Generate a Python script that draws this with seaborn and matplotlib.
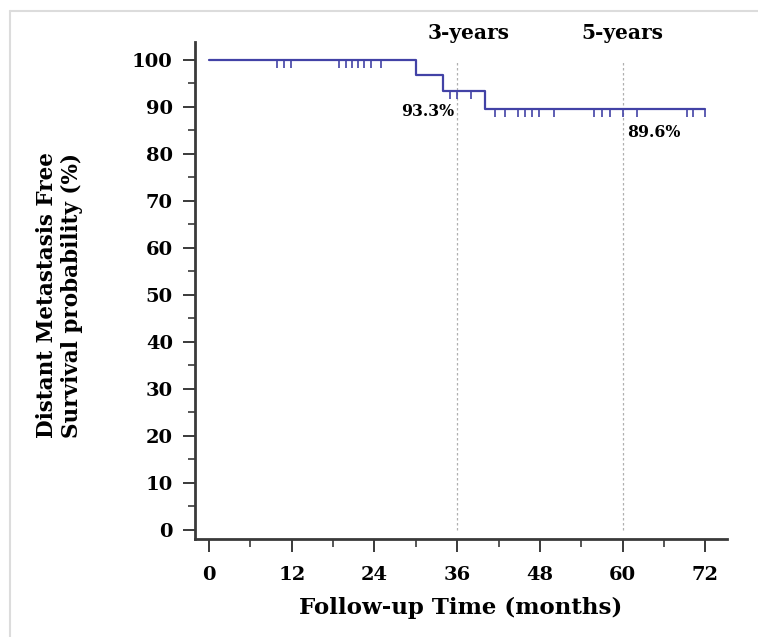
import matplotlib
matplotlib.use("Agg")
import matplotlib.pyplot as plt
import matplotlib.lines as mlines
import numpy as np
import pandas as pd
import seaborn as sns

# ---- data ----
step_times = [0, 30, 34, 40, 72]
step_surv = [100, 96.7, 93.3, 89.6, 89.6]
censor_times = [9.9, 10.9, 11.9, 18.9, 19.8, 20.7, 21.6, 22.5, 23.5, 24.9,
                35.0, 36.0, 38.0,
                41.5, 43.0, 44.8, 45.9, 46.9, 47.8, 50.0, 55.8, 57.0, 58.2,
                60.0, 62.1, 69.3, 70.2, 72.0]
landmark_times = [36, 60]
landmark_labels = ["3-years", "5-years"]
landmark_values = ["93.3%", "89.6%"]
x_ticks = [0, 12, 24, 36, 48, 60, 72]
y_ticks = [0, 10, 20, 30, 40, 50, 60, 70, 80, 90, 100]

sns.set_theme(style="ticks")
plt.rcParams['font.family'] = ['DejaVu Serif']
plt.rcParams['font.weight'] = 'bold'
plt.rcParams['text.color'] = 'black'
plt.rcParams['axes.labelcolor'] = 'black'
plt.rcParams['xtick.labelcolor'] = 'black'
plt.rcParams['ytick.labelcolor'] = 'black'

fig = plt.figure(figsize=(7.58, 6.37), dpi=100)
ax = fig.add_axes([0.2573, 0.1534, 0.7015, 0.7811])

blue = '#4242a6'
df = pd.DataFrame({"time": step_times, "surv": step_surv})
sns.lineplot(data=df, x="time", y="surv", drawstyle="steps-post",
             color=blue, linewidth=1.6, ax=ax, zorder=3)

# censor marks hanging below the curve
def surv_at(t):
    idx = np.searchsorted(step_times, t, side="right") - 1
    return step_surv[idx]

cens_levels = [surv_at(t) for t in censor_times]
ax.vlines(censor_times, [l - 1.7 for l in cens_levels], cens_levels,
          color=blue, linewidth=1.2, zorder=3)

# landmark lines
ax.vlines(landmark_times, 0, 100, color='#b0b0b0', linewidth=0.9,
          linestyles=(0, (2, 2)), zorder=1)

ax.text(37.6, 105.6, landmark_labels[0], ha='center', va='center',
        fontsize=14.5, fontweight='bold', clip_on=False)
ax.text(59.9, 105.6, landmark_labels[1], ha='center', va='center',
        fontsize=14.5, fontweight='bold', clip_on=False)
ax.text(35.5, 89.0, landmark_values[0], ha='right', va='center',
        fontsize=11.3, fontweight='bold')
ax.text(60.6, 84.6, landmark_values[1], ha='left', va='center',
        fontsize=11.3, fontweight='bold')

ax.set_xlim(-2.03, 75.1)
ax.set_ylim(-1.98, 103.8)
ax.set_xticks(x_ticks)
ax.set_xticks(np.arange(6, 72, 12), minor=True)
ax.set_yticks(y_ticks)
ax.set_yticks(np.arange(5, 100, 10), minor=True)
ax.set_xticklabels([str(v) for v in x_ticks])
ax.set_yticklabels([str(v) for v in y_ticks])

spine_col = '#3a3a3a'
for s in ['top', 'right']:
    ax.spines[s].set_visible(False)
for s in ['left', 'bottom']:
    ax.spines[s].set_linewidth(2.0)
    ax.spines[s].set_color(spine_col)

ax.tick_params(axis='y', which='major', direction='out', length=9, width=1.4,
               color=spine_col, pad=7, labelsize=14)
ax.tick_params(axis='y', which='minor', direction='out', length=4.8, width=1.2,
               color=spine_col)
ax.tick_params(axis='x', which='major', direction='out', length=9.5, width=1.4,
               color=spine_col, pad=10, labelsize=14)
ax.tick_params(axis='x', which='minor', direction='out', length=5.5, width=1.2,
               color=spine_col)
for lab in ax.get_xticklabels() + ax.get_yticklabels():
    lab.set_fontweight('bold')

ax.set_xlabel("Follow-up Time (months)", fontsize=16.5, fontweight='bold', va='center')
ax.xaxis.set_label_coords(0.5, -0.138)
ax.set_ylabel("Distant Metastasis Free\nSurvival probability (%)", fontsize=15.5,
              fontweight='bold', va='center', ha='center', linespacing=1.15)
ax.yaxis.set_label_coords(-0.255, 0.49)

# light frame lines (left and top) of the original figure panel
fig.add_artist(mlines.Line2D([10 / 758, 10 / 758], [0, 1 - 11 / 637],
                             transform=fig.transFigure, color='#dcdcdc', linewidth=1.5))
fig.add_artist(mlines.Line2D([10 / 758, 1], [1 - 11 / 637, 1 - 11 / 637],
                             transform=fig.transFigure, color='#dcdcdc', linewidth=1.5))

fig.savefig("out.png", dpi=100, facecolor='white')
